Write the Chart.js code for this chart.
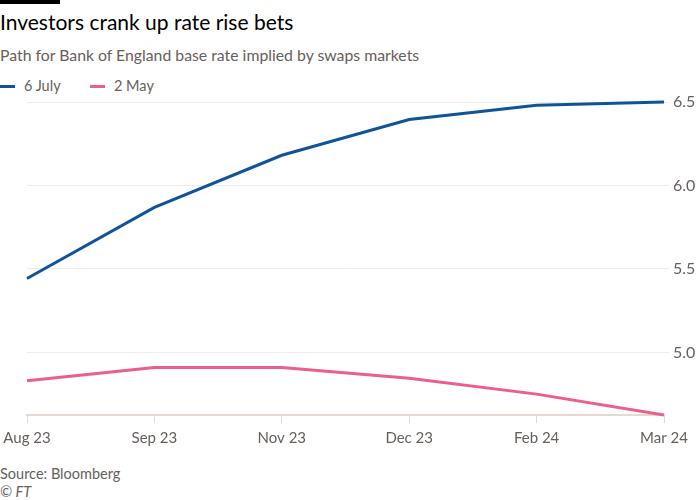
<!DOCTYPE html>
<html lang="en">
<head>
    <meta charset="UTF-8">
    <title>Investors crank up rate rise bets</title>
    <style>
        body {
            margin: 0;
            width: 700px;
            height: 500px;
            background: #ffffff;
            font-family: Lato, "Noto Sans", sans-serif;
            position: relative;
            overflow: hidden;
        }
        .bar {
            position: absolute;
            left: 0;
            top: 0;
            width: 60px;
            height: 4px;
            background: #000;
        }
        .title {
            position: absolute;
            left: 0;
            top: 9px;
            font-size: 21px;
            color: #000;
        }
        .subtitle {
            position: absolute;
            left: 0;
            top: 45px;
            font-size: 15.8px;
            color: #66605c;
        }
        .legend {
            position: absolute;
            left: 0;
            top: 77px;
            height: 18px;
            font-size: 14.5px;
            color: #66605c;
        }
        .legend span.item {
            position: absolute;
            top: 0;
            white-space: nowrap;
            line-height: 18px;
        }
        .legend span.swatch {
            display: inline-block;
            width: 15px;
            height: 3px;
            vertical-align: middle;
            margin-right: 9px;
            position: relative;
            top: -1px;
        }
        .chart-box {
            position: absolute;
            left: 0;
            top: 80px;
            width: 700px;
            height: 373px;
        }
        .source {
            position: absolute;
            left: 0;
            top: 465px;
            font-size: 14.5px;
            color: #66605c;
        }
        .ft {
            position: absolute;
            left: 0;
            top: 483px;
            font-size: 14.5px;
            font-style: italic;
            color: #66605c;
        }
    </style>
</head>
<body>
    <div class="bar"></div>
    <div class="title">Investors crank up rate rise bets</div>
    <div class="subtitle">Path for Bank of England base rate implied by swaps markets</div>
    <div class="legend" id="legend"></div>
    <div class="chart-box">
        <canvas id="rateChart" width="700" height="373"></canvas>
    </div>
    <div class="source">Source: Bloomberg</div>
    <div class="ft">© FT</div>

    <script src="https://cdn.jsdelivr.net/npm/chart.js"></script>
    <script>
        // values
        const months = ['Aug 23', 'Sep 23', 'Nov 23', 'Dec 23', 'Feb 24', 'Mar 24'];
        const july6 = [5.443, 5.869, 6.181, 6.395, 6.48, 6.50];
        const may2 = [4.83, 4.91, 4.91, 4.845, 4.75, 4.625];
        const yTicks = [5.0, 5.5, 6.0, 6.5];

        const grey = '#66605c';

        const ctx = document.getElementById('rateChart').getContext('2d');
        const chart = new Chart(ctx, {
            type: 'line',
            data: {
                labels: months,
                datasets: [{
                    label: '6 July',
                    data: july6,
                    borderColor: '#0f5499',
                    borderWidth: 3,
                    pointRadius: 0,
                    tension: 0,
                    clip: false
                }, {
                    label: '2 May',
                    data: may2,
                    borderColor: '#eb5e8d',
                    borderWidth: 3,
                    pointRadius: 0,
                    tension: 0,
                    clip: false
                }]
            },
            options: {
                responsive: false,
                animation: false,
                layout: { padding: { left: 0, right: 0, top: 22, bottom: 0 } },
                plugins: {
                    legend: { display: false },
                    tooltip: { enabled: false }
                },
                scales: {
                    x: {
                        offset: false,
                        afterFit: axis => {
                            axis.paddingLeft = 27;
                            axis.paddingRight = 0;
                        },
                        grid: {
                            drawOnChartArea: false,
                            drawTicks: true,
                            tickLength: 8,
                            color: '#e6d9ce'
                        },
                        border: { color: '#e6d9ce', width: 2 },
                        ticks: {
                            color: grey,
                            font: { family: 'Lato', size: 15 },
                            maxRotation: 0,
                            padding: 6
                        }
                    },
                    y: {
                        position: 'right',
                        min: 4.625,
                        max: 6.5,
                        afterBuildTicks: axis => {
                            axis.ticks = yTicks.map(v => ({ value: v }));
                        },
                        afterFit: axis => {
                            axis.width = 36;
                        },
                        grid: {
                            color: '#f2ebe5',
                            drawTicks: true,
                            tickLength: 5
                        },
                        border: { display: false },
                        ticks: {
                            color: grey,
                            font: { family: 'Lato', size: 16 },
                            padding: 4,
                            callback: v => v.toFixed(1)
                        }
                    }
                }
            }
        });

        // legend built from the chart's datasets
        const legend = document.getElementById('legend');
        const legendX = [0, 90];
        chart.data.datasets.forEach((ds, i) => {
            const item = document.createElement('span');
            item.className = 'item';
            item.style.left = legendX[i] + 'px';
            const sw = document.createElement('span');
            sw.className = 'swatch';
            sw.style.background = ds.borderColor;
            item.appendChild(sw);
            item.appendChild(document.createTextNode(ds.label));
            legend.appendChild(item);
        });
    </script>
</body>
</html>
